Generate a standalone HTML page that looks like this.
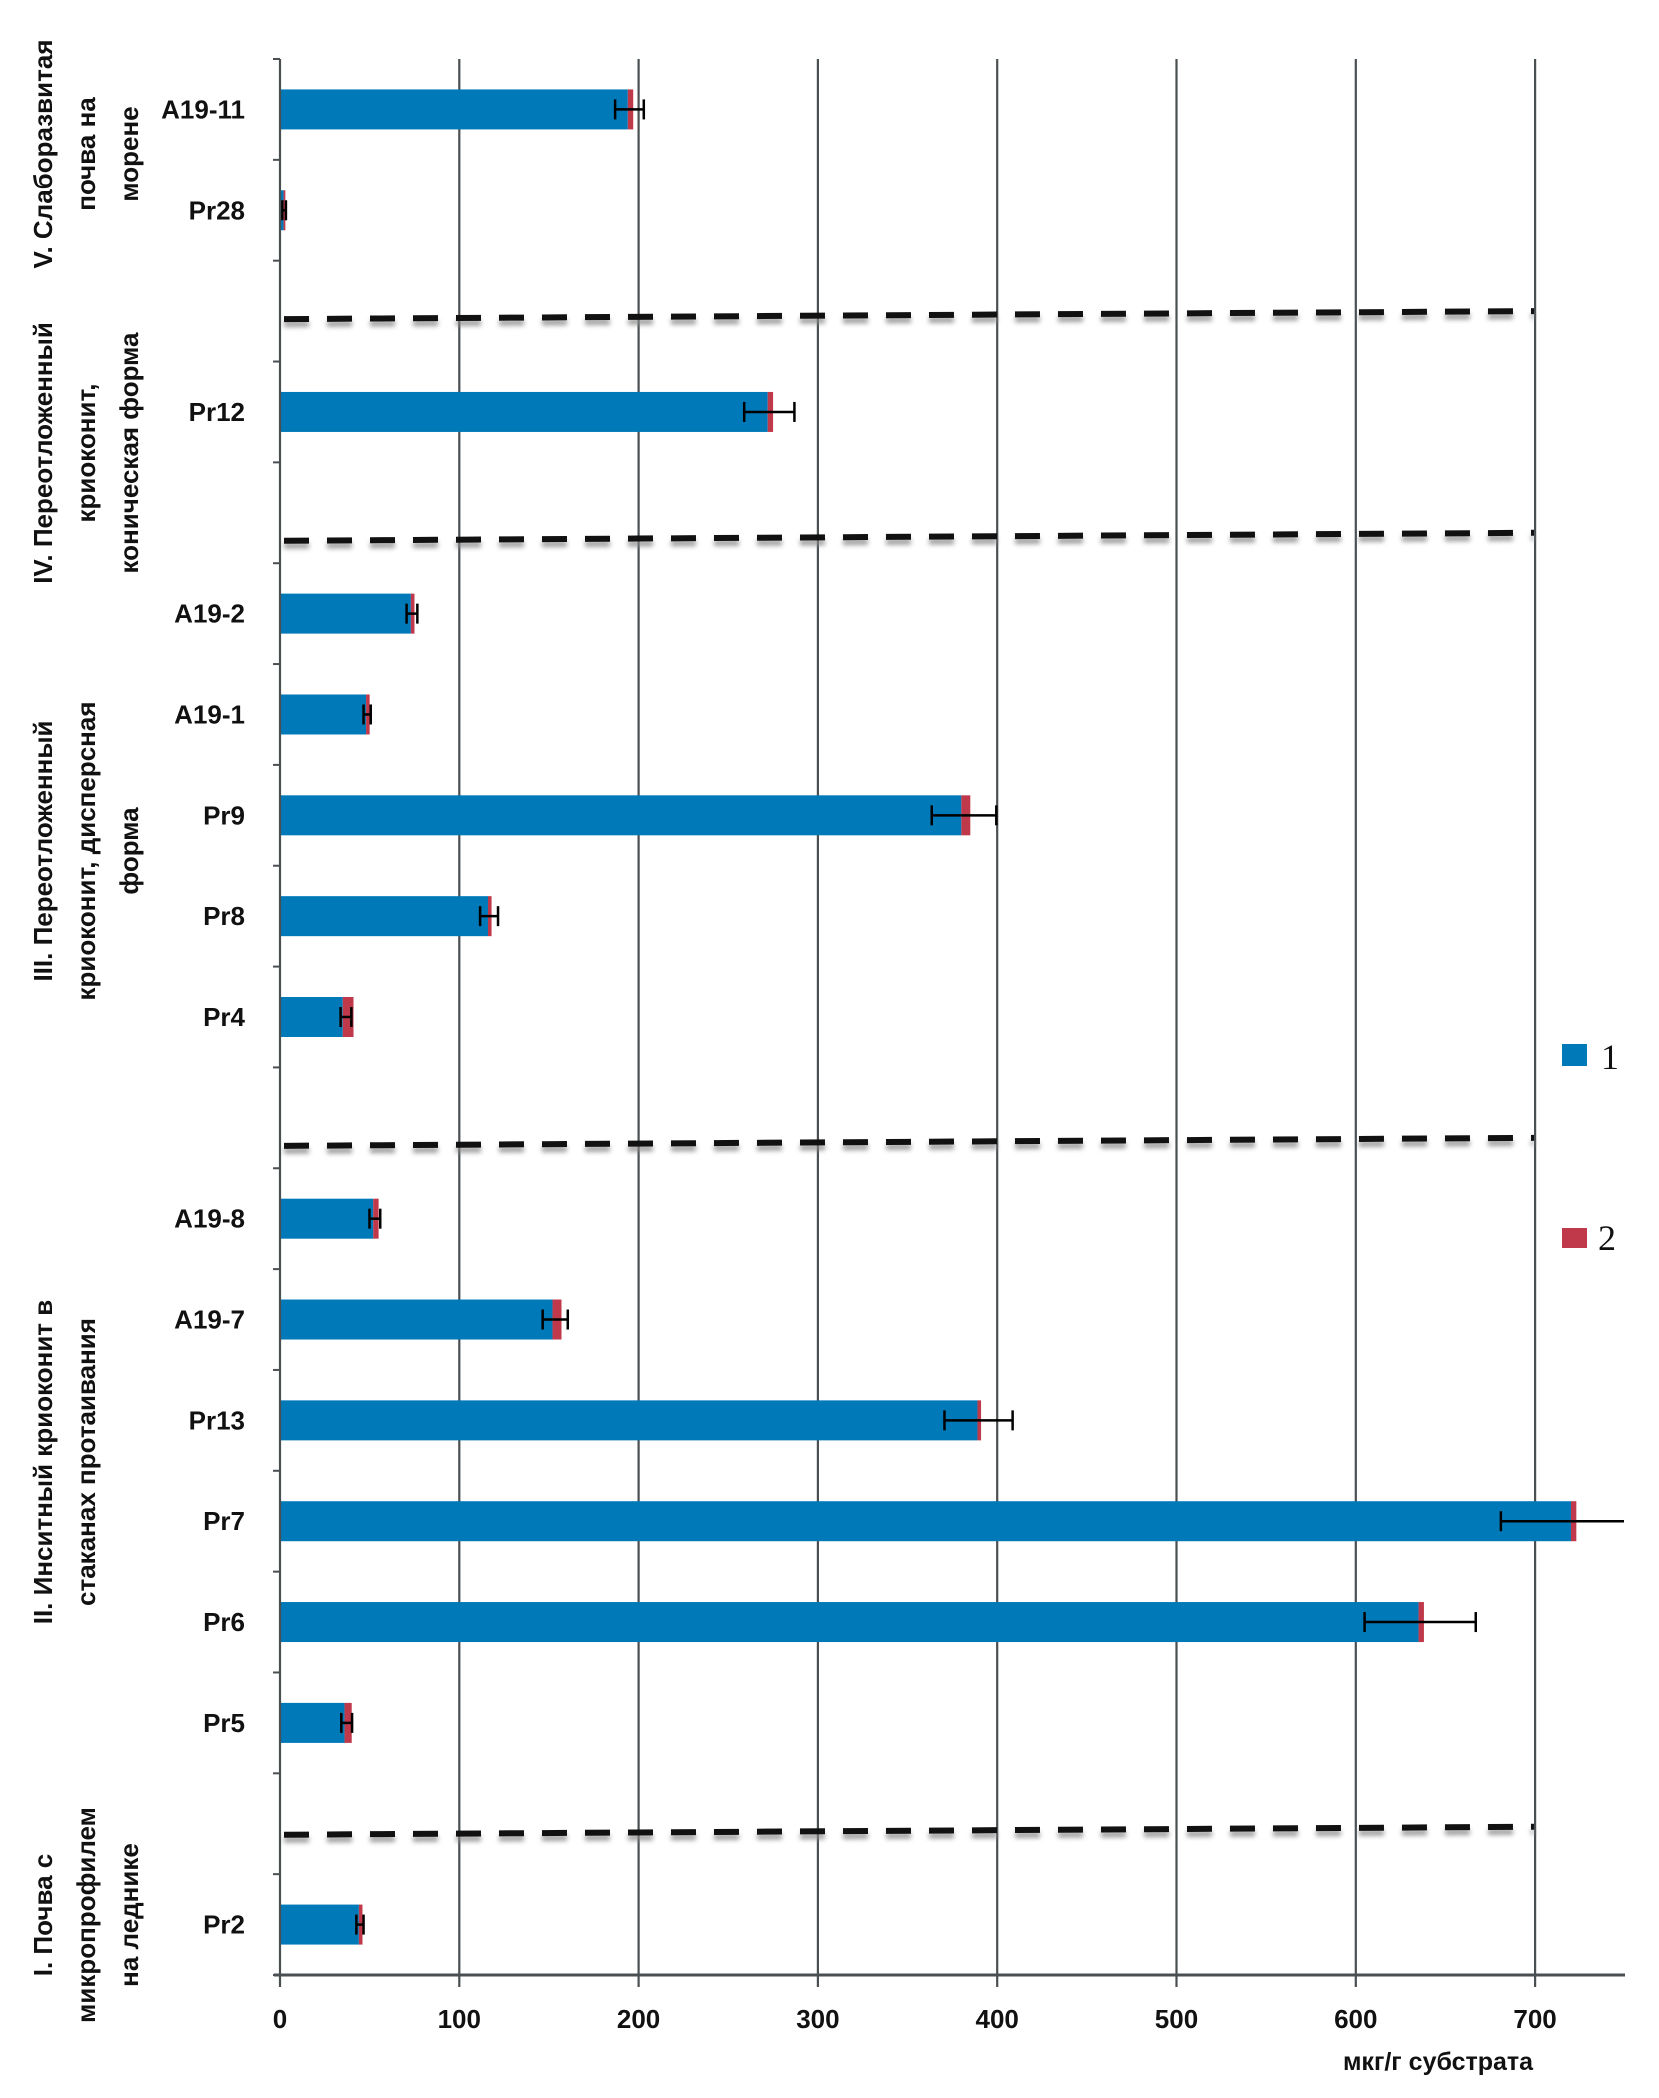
<!DOCTYPE html>
<html><head><meta charset="utf-8"><style>
html,body{margin:0;padding:0;background:#fff;}
svg{display:block;}
.cat{font-family:"Liberation Sans",sans-serif;font-weight:bold;font-size:26px;fill:#111;}
.grp{font-family:"Liberation Sans",sans-serif;font-weight:bold;font-size:26px;fill:#111;}
.tick{font-family:"Liberation Sans",sans-serif;font-weight:bold;font-size:26px;fill:#111;}
</style></head><body>
<svg id="chart" width="1659" height="2098" viewBox="0 0 1659 2098" xmlns="http://www.w3.org/2000/svg">
<defs><filter id="blur" x="-5%" y="-200%" width="110%" height="500%"><feGaussianBlur stdDeviation="2.5"/></filter>
<clipPath id="plotclip"><rect x="0" y="0" width="1624" height="2098"/></clipPath></defs>
<g id="grid"></g>
<g id="bars" clip-path="url(#plotclip)"></g>
<g id="dividers"></g>
<g id="axes"></g>
<g id="labels"></g>
<g>
  <text class="grp" transform="translate(0,154) rotate(-90)" text-anchor="middle"><tspan x="0" y="52">V. Слаборазвитая</tspan><tspan x="0" y="95">почва на</tspan><tspan x="0" y="138">морене</tspan></text>
  <text class="grp" transform="translate(0,453) rotate(-90)" text-anchor="middle"><tspan x="0" y="52">IV. Переотложенный</tspan><tspan x="0" y="95">криоконит,</tspan><tspan x="0" y="138">коническая форма</tspan></text>
  <text class="grp" transform="translate(0,851) rotate(-90)" text-anchor="middle"><tspan x="0" y="52">III. Переотложенный</tspan><tspan x="0" y="95">криоконит, дисперсная</tspan><tspan x="0" y="138">форма</tspan></text>
  <text class="grp" transform="translate(0,1462) rotate(-90)" text-anchor="middle"><tspan x="0" y="52">II. Инситный криоконит в</tspan><tspan x="0" y="95">стаканах протаивания</tspan></text>
  <text class="grp" transform="translate(0,1915) rotate(-90)" text-anchor="middle"><tspan x="0" y="52">I. Почва с</tspan><tspan x="0" y="95">микропрофилем</tspan><tspan x="0" y="138">на леднике</tspan></text>
</g>
<text class="tick" x="1438" y="2070" text-anchor="middle" style="font-size:25px">мкг/г субстрата</text>
<g>
  <rect x="1562" y="1044" width="25" height="22" fill="#0079b8"/>
  <text x="1601" y="1069" style="font-family:'Liberation Serif',serif;font-size:36px;fill:#111">1</text>
  <rect x="1562" y="1228" width="25" height="20" fill="#c0394a"/>
  <text x="1598" y="1250" style="font-family:'Liberation Serif',serif;font-size:36px;fill:#111">2</text>
</g>
</svg>
<script>
const categories = ["A19-11","Pr28","","Pr12","","A19-2","A19-1","Pr9","Pr8","Pr4","","A19-8","A19-7","Pr13","Pr7","Pr6","Pr5","","Pr2"];
const series1 = [194,2,null,272,null,73,48,380,116,35,null,52,152,389,720,635,36,null,44];
const series2 = [3,1,null,3,null,2,2,5,2,6,null,3,5,2,3,3,4,null,2];
const errors = [8,1,null,14,null,3,2,18,5,3,null,3,7,19,40,31,3,null,2];
const xTicks = [0,100,200,300,400,500,600,700];
const dividerSlots = [2,4,10,17];

const NS="http://www.w3.org/2000/svg";
const X0=280, PX=179.3, TOP=59, BOT=1975, SLOT=(BOT-TOP)/categories.length;
const xs=v=>X0+v*PX/100;
const yc=i=>TOP+SLOT*(i+0.5);
function mk(tag,attrs,parent){const e=document.createElementNS(NS,tag);for(const k in attrs)e.setAttribute(k,attrs[k]);parent.appendChild(e);return e;}
const grid=document.getElementById('grid'),bars=document.getElementById('bars'),axes=document.getElementById('axes'),labels=document.getElementById('labels'),div=document.getElementById('dividers');

xTicks.forEach(t=>{
  if(t>0){const l=mk('line',{x1:xs(t),x2:xs(t),y1:TOP,y2:BOT+12,stroke:'#4a4f52','stroke-width':2.2},grid);
  
  }
  const tx=mk('text',{x:xs(t),y:2028,'text-anchor':'middle',class:'tick'},axes);
  tx.textContent=t;
  
  
});
let a=mk('line',{x1:X0,x2:X0,y1:TOP,y2:BOT+12,stroke:'#4a4f52','stroke-width':2.2},axes);


a=mk('line',{x1:X0-6,x2:1625,y1:BOT,y2:BOT,stroke:'#4a4f52','stroke-width':3},axes);


for(let i=0;i<=categories.length;i++){
  const y=TOP+SLOT*i;
  const t=mk('line',{x1:X0-7,x2:X0,y1:y,y2:y,stroke:'#4a4f52','stroke-width':2},axes);
  
  
}
categories.forEach((c,i)=>{
  if(series1[i]==null)return;
  const y=yc(i),h=40;
  const b=mk('rect',{x:X0,y:y-h/2,width:xs(series1[i])-X0,height:h,fill:'#0079b8'},bars);
  
  
  const r=mk('rect',{x:xs(series1[i]),y:y-h/2,width:xs(series1[i]+series2[i])-xs(series1[i]),height:h,fill:'#c0394a'},bars);
  
  
  const ctr=series1[i]+series2[i]*0.3;
  const g=mk('g',{stroke:'#000','stroke-width':2.5},bars);
  
  
  mk('line',{x1:xs(ctr-errors[i]),x2:xs(ctr+errors[i]),y1:y,y2:y},g);
  mk('line',{x1:xs(ctr-errors[i]),x2:xs(ctr-errors[i]),y1:y-10,y2:y+10},g);
  mk('line',{x1:xs(ctr+errors[i]),x2:xs(ctr+errors[i]),y1:y-10,y2:y+10},g);
  const t=mk('text',{x:245,y:y+9,'text-anchor':'end',class:'cat'},labels);
  t.textContent=c;
  
  
});
const dividerOffsets={2:4,4:24,10:24,17:7};
dividerSlots.forEach(s=>{
  const y=yc(s)+dividerOffsets[s];
  const g=mk('g',{},div);
  
  
  mk('line',{x1:284,x2:1534,y1:y+9,y2:y+1,stroke:'#888','stroke-width':6,'stroke-dasharray':'25 18',filter:'url(#blur)',opacity:0.8},g);
  mk('line',{x1:284,x2:1534,y1:y+4,y2:y-4,stroke:'#111','stroke-width':6,'stroke-dasharray':'25 18'},g);
});
</script>
</body></html>
